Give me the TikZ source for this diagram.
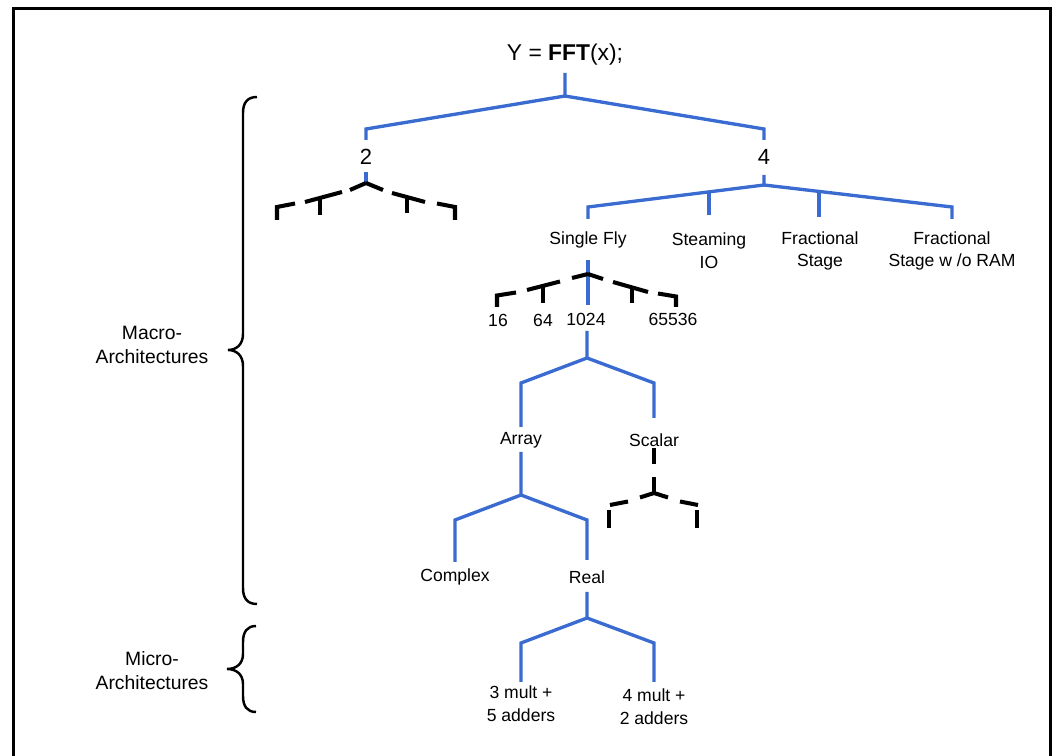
\documentclass[tikz,border=0pt]{standalone}
\usepackage{fontspec}
\setmainfont{Liberation Sans}
\definecolor{fftblue}{RGB}{58,107,208}
\tikzset{
 blu/.style={draw=fftblue, line width=1.9pt},
 dk/.style={draw=black, line width=2.3pt, line cap=butt, line join=miter},
 lab/.style={inner sep=0pt, align=center, font=\fontsize{10}{13}\selectfont},
 side/.style={inner sep=0pt, align=center, font=\fontsize{11}{13.6}\selectfont},
 num/.style={inner sep=0pt, font=\fontsize{12.5}{15}\selectfont},
 ttl/.style={inner sep=0pt, font=\fontsize{13}{15}\selectfont},
 brc/.style={draw=black, line width=1.4pt},
 frm/.style={draw=black, line width=1.7pt}
}
\begin{document}
\begin{tikzpicture}[x=0.02cm,y=-0.02cm]
\useasboundingbox (0,0) rectangle (1052,756);
% frame
\coordinate (fbl) at (13.5,760);
\coordinate (ftl) at (13.5,8.5);
\coordinate (ftr) at (1050.5,8.5);
\coordinate (fbr) at (1050.5,760);
\draw[frm] (fbl) -- (ftl) -- (ftr) -- (fbr);

% ---------- text nodes
\node[ttl] (title) at (565,55) {Y = \textbf{FFT}(x);};
\node[num] (n2) at (366,157) {2};
\node[num] (n4) at (764,157) {4};
\node[lab] (single) at (588,240) {Single Fly};
\node[lab] (steam) at (709,251) {Steaming\\IO};
\node[lab] (frac) at (820,251) {Fractional\\Stage};
\node[lab] (fracr) at (952,251) {Fractional\\Stage w /o RAM};
\node[lab] (s16) at (498,320) {16};
\node[lab] (s64) at (543,320) {64};
\node[lab] (s1024) at (586,319) {1024};
\node[lab] (s65536) at (673,319) {65536};
\node[lab] (array) at (521,440) {Array};
\node[lab] (scalar) at (654,440) {Scalar};
\node[lab] (complex) at (455,577) {Complex};
\node[lab] (real) at (587,577) {Real};
\node[lab] (m3) at (521,704) {3 mult +\\5 adders};
\node[lab] (m4) at (654,707) {4 mult +\\2 adders};
\node[side] (macro) at (152,345) {Macro-\\Architectures};
\node[side] (micro) at (152,671) {Micro-\\Architectures};

% ---------- root
\coordinate (r0) at (565,73);
\coordinate (r1) at (565,96);
\coordinate (rl) at (366,129);
\coordinate (rl2) at (366,140);
\coordinate (rr) at (764,129);
\coordinate (rr2) at (764,140);
\draw[blu] (r0) -- (r1) -- (rl) -- (rl2);
\draw[blu] (r1) -- (rr) -- (rr2);

% ---------- under 2 (dashed fan)
\coordinate (t2a) at (366,172);
\coordinate (c2) at (366,183);
\draw[blu] (t2a) -- (c2);
% left arm
\coordinate (c2la) at (350,190);
\coordinate (c2lb1) at (342,192);
\coordinate (c2lb2) at (305,202);
\coordinate (c2lt1) at (320,197);
\coordinate (c2lt2) at (320,215);
\coordinate (c2lc1) at (295,203.5);
\coordinate (c2l) at (277,207);
\coordinate (c2ld) at (277,220);
\draw[dk] (c2) -- (c2la);
\draw[dk] (c2lb1) -- (c2lb2);
\draw[dk] (c2lt1) -- (c2lt2);
\draw[dk] (c2lc1) -- (c2l) -- (c2ld);
% right arm
\coordinate (c2ra) at (383,190);
\coordinate (c2rb1) at (392,193);
\coordinate (c2rb2) at (425,202);
\coordinate (c2rt1) at (407,197);
\coordinate (c2rt2) at (407,213);
\coordinate (c2rc1) at (437,203.5);
\coordinate (c2r) at (455,207);
\coordinate (c2rd) at (455,220);
\draw[dk] (c2) -- (c2ra);
\draw[dk] (c2rb1) -- (c2rb2);
\draw[dk] (c2rt1) -- (c2rt2);
\draw[dk] (c2rc1) -- (c2r) -- (c2rd);

% ---------- under 4
\coordinate (t4a) at (764,175);
\coordinate (c4) at (764,185);
\coordinate (c4l) at (588,207);
\coordinate (c4ld) at (588,219);
\coordinate (c4m1) at (709,191.9);
\coordinate (c4m1d) at (709,215);
\coordinate (c4m2) at (819,191.4);
\coordinate (c4m2d) at (819,217);
\coordinate (c4r) at (952,207);
\coordinate (c4rd) at (952,219);
\draw[blu] (t4a) -- (c4) -- (c4l) -- (c4ld);
\draw[blu] (c4) -- (c4r) -- (c4rd);
\draw[blu] (c4m1) -- (c4m1d);
\draw[blu] (c4m2) -- (c4m2d);

% ---------- under Single Fly
\coordinate (sfa) at (588,260);
\coordinate (sfb) at (588,305);
\draw[blu] (sfa) -- (sfb);
\coordinate (cs) at (588,274);
% left arm
\coordinate (csla) at (572,278);
\coordinate (cslb1) at (560,281.5);
\coordinate (cslb2) at (527,290);
\coordinate (cslt1) at (543,286);
\coordinate (cslt2) at (543,303);
\coordinate (cslc1) at (516,292.5);
\coordinate (csl) at (497,295.5);
\coordinate (csld) at (497,307);
\draw[dk] (cs) -- (csla);
\draw[dk] (cslb1) -- (cslb2);
\draw[dk] (cslt1) -- (cslt2);
\draw[dk] (cslc1) -- (csl) -- (csld);
% right arm
\coordinate (csra) at (603,279);
\coordinate (csrb1) at (613,282);
\coordinate (csrb2) at (648,292);
\coordinate (csrt1) at (632,287);
\coordinate (csrt2) at (632,303);
\coordinate (csrc1) at (658,293.5);
\coordinate (csr) at (676,296.5);
\coordinate (csrd) at (676,307);
\draw[dk] (cs) -- (csra);
\draw[dk] (csrb1) -- (csrb2);
\draw[dk] (csrt1) -- (csrt2);
\draw[dk] (csrc1) -- (csr) -- (csrd);

% ---------- under 1024
\coordinate (ka) at (587,331);
\coordinate (kc) at (587,358);
\coordinate (kl) at (521,383);
\coordinate (kld) at (521,427);
\coordinate (kr) at (654,383);
\coordinate (krd) at (654,418);
\draw[blu] (ka) -- (kc) -- (kl) -- (kld);
\draw[blu] (kc) -- (kr) -- (krd);

% ---------- under Array
\coordinate (aa) at (521,452);
\coordinate (ac) at (521,495);
\coordinate (al) at (455,520);
\coordinate (ald) at (455,562);
\coordinate (ar) at (587,520);
\coordinate (ard) at (587,560);
\draw[blu] (aa) -- (ac) -- (al) -- (ald);
\draw[blu] (ac) -- (ar) -- (ard);

% ---------- under Scalar (dashed)
\coordinate (sa1) at (654,448);
\coordinate (sa2) at (654,464);
\coordinate (sb1) at (654,477);
\coordinate (sc) at (654,493);
\coordinate (sla) at (640,497.5);
\coordinate (slb1) at (628,501.5);
\coordinate (slb2) at (610,505);
\coordinate (slt1) at (609,510);
\coordinate (sld) at (609,528);
\coordinate (sra) at (668,497.5);
\coordinate (srb1) at (680,501.5);
\coordinate (srb2) at (698,505);
\coordinate (srt1) at (697,510);
\coordinate (srd) at (697,528);
\draw[dk] (sa1) -- (sa2);
\draw[dk] (sb1) -- (sc);
\draw[dk] (sc) -- (sla);
\draw[dk] (slb1) -- (slb2);
\draw[dk] (slt1) -- (sld);
\draw[dk] (sc) -- (sra);
\draw[dk] (srb1) -- (srb2);
\draw[dk] (srt1) -- (srd);

% ---------- under Real
\coordinate (ea) at (587,592);
\coordinate (ec) at (587,618);
\coordinate (el) at (521,643);
\coordinate (eld) at (521,682);
\coordinate (er) at (654,643);
\coordinate (erd) at (654,682);
\draw[blu] (ea) -- (ec) -- (el) -- (eld);
\draw[blu] (ec) -- (er) -- (erd);

% ---------- braces
\coordinate (bmt) at (257,97);
\coordinate (bmtip) at (228,350);
\coordinate (bmb) at (257,604);
\draw[brc] (bmt) .. controls (247,97) and (243,103) .. (243,113)
  -- (243,334) .. controls (243,345) and (236,350) .. (bmtip)
  .. controls (236,350) and (243,355) .. (243,366)
  -- (243,588) .. controls (243,598) and (247,604) .. (bmb);
\coordinate (bst) at (256,626);
\coordinate (bstip) at (227,669);
\coordinate (bsb) at (256,712);
\draw[brc] (bst) .. controls (247,626) and (243,632) .. (243,642)
  -- (243,654) .. controls (243,664) and (236,669) .. (bstip)
  .. controls (236,669) and (243,674) .. (243,684)
  -- (243,696) .. controls (243,706) and (247,712) .. (bsb);
\end{tikzpicture}
\end{document}
